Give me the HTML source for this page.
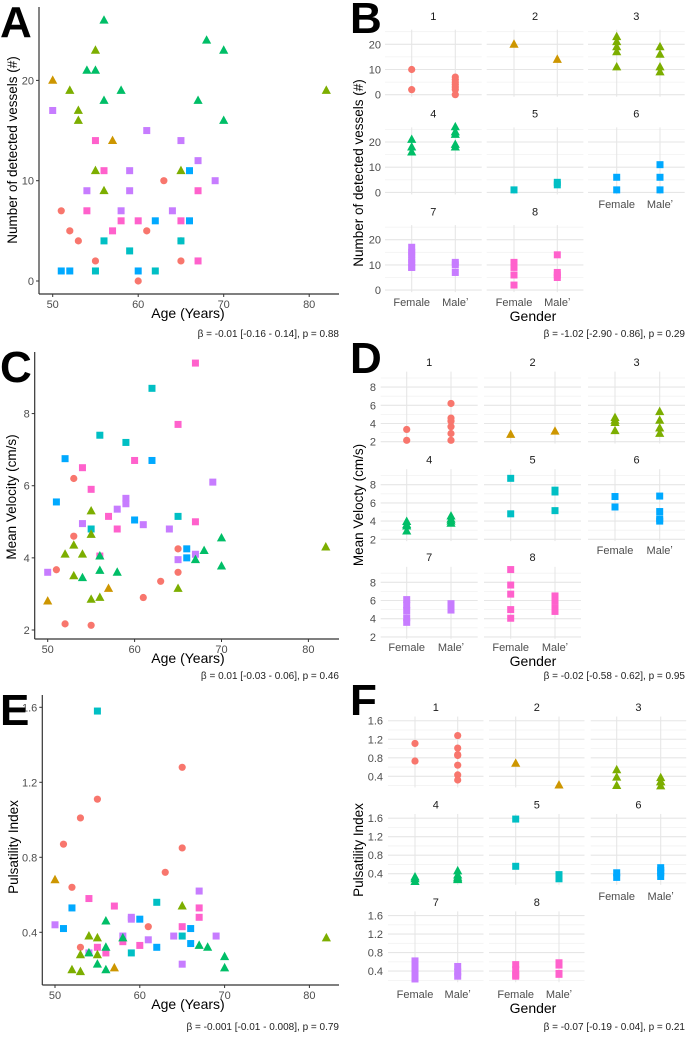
<!DOCTYPE html>
<html><head><meta charset="utf-8">
<style>
html,body{margin:0;padding:0;background:#fff;}
svg{display:block;font-family:"Liberation Sans",sans-serif;}
</style></head>
<body>
<svg id="fig" width="693" height="1039" viewBox="0 0 693 1039" xmlns="http://www.w3.org/2000/svg"></svg>
<script>
const colors = ['#F8766D','#CD9600','#7CAE00','#00BE67','#00BFC4','#00A9FF','#C77CFF','#FF61CC'];

// Panel A data
const aAge = [50,57, 55,52,53,53,55,56,65,82, 56,68,70,54,55,58,56,67,70, 51,52,53,55,60,61,63,65,65, 50,61,65,67,59,69,54,59,58,64, 55,56,67,54,58,60,57,65,67, 66,62,66,51,52,60, 56,59,55,62,65];
const aVal = [20,14, 23,19,17,16,11,9,11,19, 26,24,23,21,21,19,18,18,16, 7,5,4,2,0,5,10,2,4, 17,15,14,12,11,10,9,9,7,7, 14,11,9,7,6,6,5,6,2, 11,6,6,1,1,1, 4,3,1,1,4];
const aGrp = [2,2, 3,3,3,3,3,3,3,3, 4,4,4,4,4,4,4,4,4, 1,1,1,1,1,1,1,1,1, 7,7,7,7,7,7,7,7,7,7, 8,8,8,8,8,8,8,8,8, 6,6,6,6,6,6, 5,5,5,5,5];
const aXTicks = [50,60,70,80];
const aYTicks = [0,10,20];

// Panel C data
const cAge = [67,65,60,54,55,57,58,67,56, 62,56,59,55,65, 52,62,51,60,66,66, 53,53,65,51,65,63,61,52,55, 69,59,59,58,54,61,64,67,65,50, 55,55,53,52,54,53,55,56,65,82, 70,68,56,67,70,56,58,54, 57,50];
const cVal = [9.4,7.7,6.7,6.5,5.9,5.15,4.8,5.0,4.05, 8.7,7.4,7.2,4.8,5.15, 6.75,6.7,5.55,5.05,4.25,4.0, 6.2,4.6,4.25,3.67,3.6,3.35,2.9,2.17,2.13, 6.1,5.65,5.5,5.35,4.95,4.92,4.8,4.1,3.95,3.6, 5.3,4.65,4.35,4.1,4.1,3.5,2.85,2.9,3.15,4.3, 4.55,4.2,4.05,3.95,3.77,3.65,3.6,3.45, 3.15,2.8];
const cGrp = [8,8,8,8,8,8,8,8,8, 5,5,5,5,5, 6,6,6,6,6,6, 1,1,1,1,1,1,1,1,1, 7,7,7,7,7,7,7,7,7,7, 3,3,3,3,3,3,3,3,3,3, 4,4,4,4,4,4,4,4, 2,2];
const cXTicks = [50,60,70,80];
const cYTicks = [2,4,6,8];

// Panel E data
const eAge = [55,62,65,59, 65,55,53,51,65,63,52,61,53, 50,57, 67,50,59,59,58,61,64,69,65,54, 54,57,67,67,65,58,55,60,56, 52,51,60,66,62,66, 65,54,55,53,55,52,53,82, 56,58,56,54,55,56,67,68,70,70];
const eVal = [1.58,0.56,0.38,0.29, 1.28,1.11,1.01,0.87,0.85,0.72,0.64,0.43,0.32, 0.68,0.21, 0.62,0.44,0.48,0.47,0.38,0.36,0.38,0.38,0.23,0.29, 0.58,0.54,0.53,0.48,0.43,0.35,0.32,0.33,0.29, 0.53,0.42,0.47,0.42,0.32,0.34, 0.54,0.38,0.37,0.28,0.28,0.2,0.19,0.37, 0.46,0.37,0.32,0.29,0.23,0.2,0.33,0.32,0.27,0.21];
const eGrp = [5,5,5,5, 1,1,1,1,1,1,1,1,1, 2,2, 7,7,7,7,7,7,7,7,7,7, 8,8,8,8,8,8,8,8,8, 6,6,6,6,6,6, 3,3,3,3,3,3,3,3, 4,4,4,4,4,4,4,4,4,4];
const eXTicks = [50,60,70,80];
const eYTicks = [0.4,0.8,1.2,1.6];

// Facet data (groups 1..8)
const bFemale = [[10,2],[20],[23,21,19,17,11],[21,18,16],[1],[6,1],[17,15,14,12,11,9,9],[11,9,6,2]];
const bMale = [[7,6,5,4,3,2,0],[14],[19,16,11,9],[26,24,23,19,18],[4,3],[11,6,1],[11,10,7],[14,7,6,5]];
const bTicks = [0,10,20];
const dFemale = [[3.35,2.15],[2.8],[4.65,4.35,4.1,3.2],[3.95,3.6,2.9,3.45],[8.7,4.8],[6.7,5.55],[6.1,5.5,4.9,4.1,3.6],[9.4,7.7,6.7,5.0,4.05]];
const dMale = [[6.2,4.6,4.25,3.65,2.9,2.15],[3.15],[5.3,4.35,3.5,2.9],[4.55,4.2,4.0,3.75],[7.4,7.2,5.15],[6.75,5.05,4.25,4.0],[5.65,5.35,4.95],[6.5,5.9,5.15,4.8]];
const dTicks = [2,4,6,8];
const fFemale = [[1.11,0.73],[0.68],[0.54,0.38,0.2],[0.33,0.29,0.23],[1.58,0.56],[0.42,0.32],[0.62,0.48,0.44,0.36,0.23],[0.54,0.43,0.32,0.29]];
const fMale = [[1.28,1.01,0.87,0.85,0.64,0.43,0.32],[0.21],[0.37,0.28,0.28,0.19],[0.46,0.37,0.32,0.29,0.27],[0.38,0.29],[0.53,0.47,0.42,0.34],[0.5,0.38,0.29],[0.58,0.53,0.35,0.33]];
const fTicks = [0.4,0.8,1.2,1.6];

const NS = 'http://www.w3.org/2000/svg';
const svg = document.getElementById('fig');
function el(tag, attrs, parent, text){
  const e = document.createElementNS(NS, tag);
  for (const k in attrs) e.setAttribute(k, attrs[k]);
  if (text !== undefined) e.textContent = text;
  (parent || svg).appendChild(e);
  return e;
}
function mark(g, x, y, grp){
  const c = colors[grp-1];
  let m;
  if (grp === 1) m = el('circle', {cx:x, cy:y, r:3.6, fill:c}, g);
  else if (grp <= 4) m = el('polygon', {points:`${x},${y-5} ${x-4.6},${y+3.4} ${x+4.6},${y+3.4}`, fill:c}, g);
  else m = el('rect', {x:x-3.5, y:y-3.5, width:7, height:7, fill:c}, g);
  
  
}
function label(txt, x, y){
  const t = el('text', {x:x, y:y, 'font-size':44, 'font-weight':'bold', fill:'#000'}, svg, txt);
  
  
}
function note(txt, x, y){
  const t = el('text', {x:x, y:y, 'font-size':10, 'text-anchor':'end', fill:'#222'}, svg, txt);
  
  
}

function scatter(cfg, ages, vals, grps, xt, yt){
  const g = el('g', {});
  
  
  const X = a => cfg.x0 + (a - 50) * cfg.xs;
  const Y = v => cfg.y0 - (v - cfg.v0) * cfg.ys;
  for (let i = 0; i < ages.length; i++) mark(g, X(ages[i]), Y(vals[i]), grps[i]);
  const ax = el('line', {x1:cfg.ax, y1:cfg.top, x2:cfg.ax, y2:cfg.bot, stroke:'#333', 'stroke-width':1.2}, g);
  
  
  const bx = el('line', {x1:cfg.ax, y1:cfg.bot, x2:339, y2:cfg.bot, stroke:'#333', 'stroke-width':1.2}, g);
  
  
  xt.forEach(t => {
    el('line', {x1:X(t), y1:cfg.bot, x2:X(t), y2:cfg.bot+3, stroke:'#333'}, g);
    const tl = el('text', {x:X(t), y:cfg.bot+14, 'font-size':11, 'text-anchor':'middle', fill:'#4d4d4d'}, g, String(t));
    
    
  });
  yt.forEach(t => {
    el('line', {x1:cfg.ax-3, y1:Y(t), x2:cfg.ax, y2:Y(t), stroke:'#333'}, g);
    const tl = el('text', {x:cfg.ax-5, y:Y(t)+4, 'font-size':11, 'text-anchor':'end', fill:'#4d4d4d'}, g, String(t));
    
    
  });
  const xtit = el('text', {x:188, y:cfg.bot+24, 'font-size':14, 'text-anchor':'middle', fill:'#000'}, g, 'Age (Years)');
  
  
  const ytit = el('text', {x:0, y:0, 'font-size':13.5, 'text-anchor':'middle', fill:'#000', transform:`translate(${cfg.ytx},${cfg.yty}) rotate(-90)`}, g, cfg.ytitle);
  
  
}

function facet(cfg, fem, mal, ticks){
  const g = el('g', {});
  
  
  for (let k = 0; k < 8; k++){
    const r = Math.floor(k/3), c = k % 3;
    const Y = v => cfg.y0 + r*cfg.rs - (v - cfg.v0)*cfg.sc;
    const px = cfg.px[c], pw = cfg.pw;
    const top = Y(cfg.vmax), bot = Y(cfg.vmin);
    // minor + major grid
    cfg.minor.forEach(m => el('line', {x1:px, x2:px+pw, y1:Y(m), y2:Y(m), stroke:'#f2f2f2', 'stroke-width':0.8}, g));
    ticks.forEach(t => el('line', {x1:px, x2:px+pw, y1:Y(t), y2:Y(t), stroke:'#e6e6e6', 'stroke-width':1.1}, g));
    el('line', {x1:cfg.fx[c], x2:cfg.fx[c], y1:top, y2:bot, stroke:'#e6e6e6', 'stroke-width':1.1}, g);
    el('line', {x1:cfg.mx[c], x2:cfg.mx[c], y1:top, y2:bot, stroke:'#e6e6e6', 'stroke-width':1.1}, g);
    const st = el('text', {x:px+pw/2, y:cfg.sy + r*cfg.rs, 'font-size':11, 'text-anchor':'middle', fill:'#1a1a1a'}, g, String(k+1));
    
    
    if (c === 0) ticks.forEach(t => {
      const tl = el('text', {x:cfg.tx, y:Y(t)+4, 'font-size':11, 'text-anchor':'end', fill:'#4d4d4d'}, g, String(t));
      
      
    });
    fem[k].forEach(v => mark(g, cfg.fx[c], Y(v), k+1));
    mal[k].forEach(v => mark(g, cfg.mx[c], Y(v), k+1));
    if (k >= 5){
      const ly = (k === 5) ? cfg.xl1 : cfg.xl2;
      const f = el('text', {x:cfg.fx[c], y:ly, 'font-size':11, 'text-anchor':'middle', fill:'#4d4d4d'}, g, 'Female');
      
      
      const m = el('text', {x:cfg.mx[c], y:ly, 'font-size':11, 'text-anchor':'middle', fill:'#4d4d4d'}, g, 'Male\u02BC');
      
      
    }
  }
  const gt = el('text', {x:533, y:cfg.gy, 'font-size':14, 'text-anchor':'middle', fill:'#000'}, g, 'Gender');
  
  
  const yt = el('text', {x:0, y:0, 'font-size':13.5, 'text-anchor':'middle', fill:'#000', transform:`translate(363,${cfg.yty}) rotate(-90)`}, g, cfg.ytitle);
  
  
}

scatter({name:'panel-a-scatter', x0:52.7, xs:8.55, y0:281, v0:0, ys:10.03, ax:39, top:7, bot:294, ytx:17, yty:150, ytitle:'Number of detected vessels (#)'}, aAge, aVal, aGrp, aXTicks, aYTicks);
scatter({name:'panel-c-scatter', x0:47.7, xs:8.69, y0:630, v0:2, ys:36.07, ax:34.7, top:352, bot:639, ytx:16, yty:497, ytitle:'Mean Velocity (cm/s)'}, cAge, cVal, cGrp, cXTicks, cYTicks);
scatter({name:'panel-e-scatter', x0:55, xs:8.48, y0:932.3, v0:0.4, ys:187.5, ax:42.3, top:695, bot:985, ytx:18, yty:847, ytitle:'Pulsatility Index'}, eAge, eVal, eGrp, eXTicks, eYTicks);

facet({name:'panel-b-facets', y0:94.7, v0:0, sc:2.52, rs:97.7, vmin:-0.8, vmax:25.8, minor:[5,15,25], px:[385,486.7,588], pw:96.7, fx:[411.7,514,616.7], mx:[455.3,557.3,660], sy:20, tx:381, xl1:208, xl2:306, gy:321, yty:173, ytitle:'Number of detected vessels (#)'}, bFemale, bMale, bTicks);
facet({name:'panel-d-facets', y0:441.7, v0:2, sc:9.1, rs:97.6, vmin:1.8, vmax:9.7, minor:[3,5,7,9], px:[380.7,484,588], pw:97, fx:[406.7,510.7,615], mx:[451,555,659.7], sy:366, tx:376, xl1:554, xl2:651, gy:666, yty:505, ytitle:'Mean Velocty (cm/s)'}, dFemale, dMale, dTicks);
facet({name:'panel-f-facets', y0:776.3, v0:0.4, sc:46.3, rs:97.4, vmin:0.16, vmax:1.69, minor:[0.2,0.6,1.0,1.4], px:[388,489,590.7], pw:95.5, fx:[415,515.7,616.7], mx:[457.7,559,660.7], sy:711, tx:383, xl1:900, xl2:998, gy:1013, yty:850, ytitle:'Pulsatility Index'}, fFemale, fMale, fTicks);

label('A', 0, 37); label('B', 350, 33); label('C', 0, 382);
label('D', 350, 373); label('E', 0, 725); label('F', 350, 715);

note('\u03B2 = -0.01 [-0.16 - 0.14], p = 0.88', 339, 337);
note('\u03B2 = -1.02 [-2.90 - 0.86], p = 0.29', 685, 337);
note('\u03B2 = 0.01 [-0.03 - 0.06], p = 0.46', 339, 679);
note('\u03B2 = -0.02 [-0.58 - 0.62], p = 0.95', 685, 679);
note('\u03B2 = -0.001 [-0.01 - 0.008], p = 0.79', 339, 1030);
note('\u03B2 = -0.07 [-0.19 - 0.04], p = 0.21', 685, 1030);
</script>
</body></html>
